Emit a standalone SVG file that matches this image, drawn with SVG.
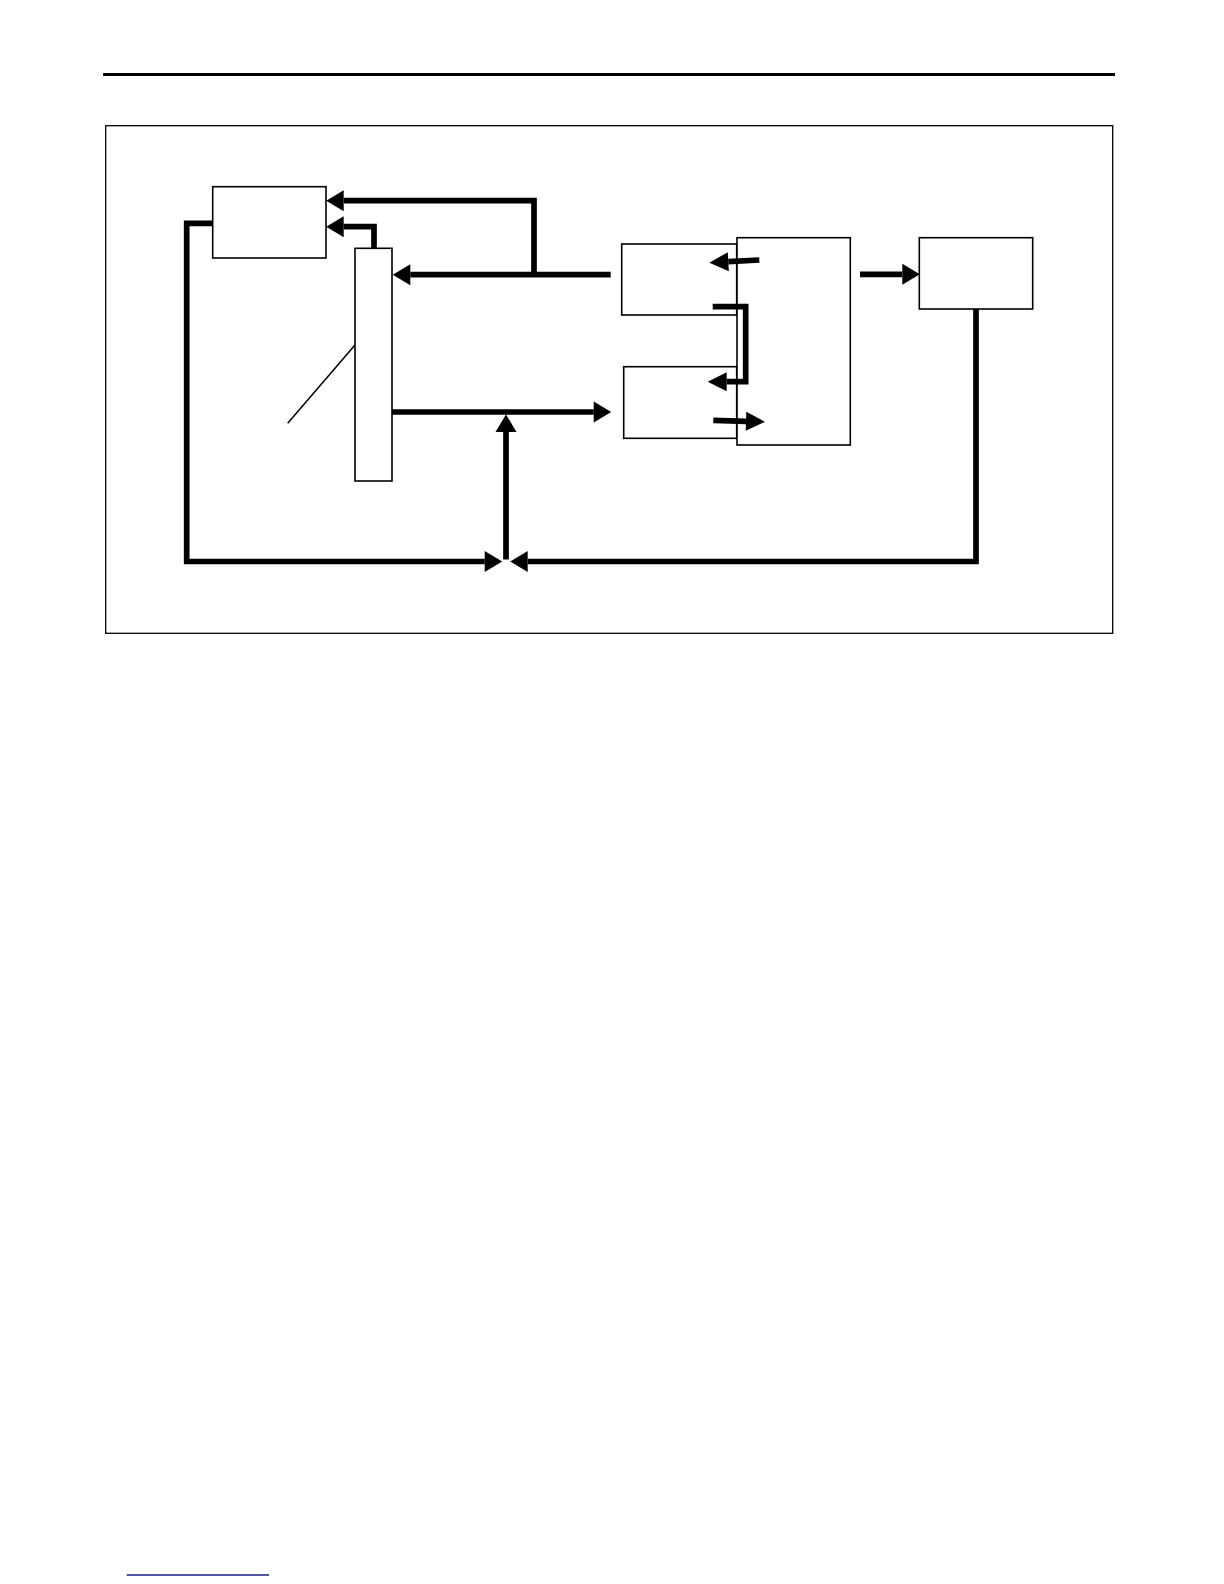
<svg xmlns="http://www.w3.org/2000/svg" width="1224" height="1584" viewBox="0 0 1224 1584">
<style>
.box{fill:#fff;stroke:#000;stroke-width:1.6}
.wire{fill:none;stroke:#000;stroke-width:5.7;stroke-linejoin:miter}
.thin{fill:none;stroke:#000;stroke-width:1.5}
</style>
<defs>
<marker id="ah" markerUnits="userSpaceOnUse" markerWidth="18" markerHeight="21" refX="0" refY="10.5" orient="auto" overflow="visible">
<path d="M0,0 L17.5,10.5 L0,21 z" fill="#000"/>
</marker>
<marker id="ahs" markerUnits="userSpaceOnUse" markerWidth="19" markerHeight="19" refX="0" refY="9.5" orient="auto" overflow="visible">
<path d="M0,0 L19,9.5 L0,19 z" fill="#000"/>
</marker>
</defs>
<rect x="0" y="0" width="1224" height="1584" fill="#fff"/>
<line x1="103" y1="74.5" x2="1115" y2="74.5" stroke="#000" stroke-width="3.2"/>
<rect x="105.7" y="125.7" width="1007" height="507.6" fill="none" stroke="#000" stroke-width="1.3"/>
<g id="connectors">
<path class="wire" d="M610.7,274.7 H410.3" marker-end="url(#ah)"/>
<path class="wire" d="M534,274.7 V200.7 H343.7" marker-end="url(#ah)"/>
<path class="wire" d="M374,248.3 V226.7 H343.7" marker-end="url(#ah)"/>
<path class="wire" d="M212.7,223.3 H186.7 V561.5 H484.7" marker-end="url(#ah)"/>
<path class="wire" d="M976,309 V561.5 H527.7" marker-end="url(#ah)"/>
<path class="wire" d="M506,559.5 V432" marker-end="url(#ah)"/>
<path class="wire" d="M392,412 H593.7" marker-end="url(#ah)"/>
<path class="wire" d="M860,274.3 H902.3" marker-end="url(#ah)"/>
<path class="thin" d="M287.7,423.3 L355,345"/>
</g>
<g id="nodeA"><rect class="box" x="212.7" y="186.7" width="113.3" height="71.3"/></g>
<g id="nodeB"><rect class="box" x="355" y="248.3" width="37" height="232.7"/></g>
<g id="nodeC"><rect class="box" x="621.7" y="244" width="115" height="71"/></g>
<g id="nodeE"><rect class="box" x="623.7" y="366.7" width="113" height="71.6"/></g>
<g id="nodeD"><rect class="box" x="737" y="237.7" width="113.3" height="207.3"/></g>
<g id="nodeF"><rect class="box" x="919.3" y="237.7" width="113.4" height="71.3"/></g>
<g id="inner-connectors">
<path class="wire" d="M759.3,260 L728.3,261.7" marker-end="url(#ahs)"/>
<path class="wire" d="M712.7,306.7 H745.7 V381.7 H726.7" marker-end="url(#ahs)"/>
<path class="wire" d="M713.3,420.3 L746,421.3" marker-end="url(#ahs)"/>
</g>
<line x1="126.7" y1="1575" x2="269" y2="1575" stroke="#1a1a8a" stroke-width="1.4"/>
</svg>
